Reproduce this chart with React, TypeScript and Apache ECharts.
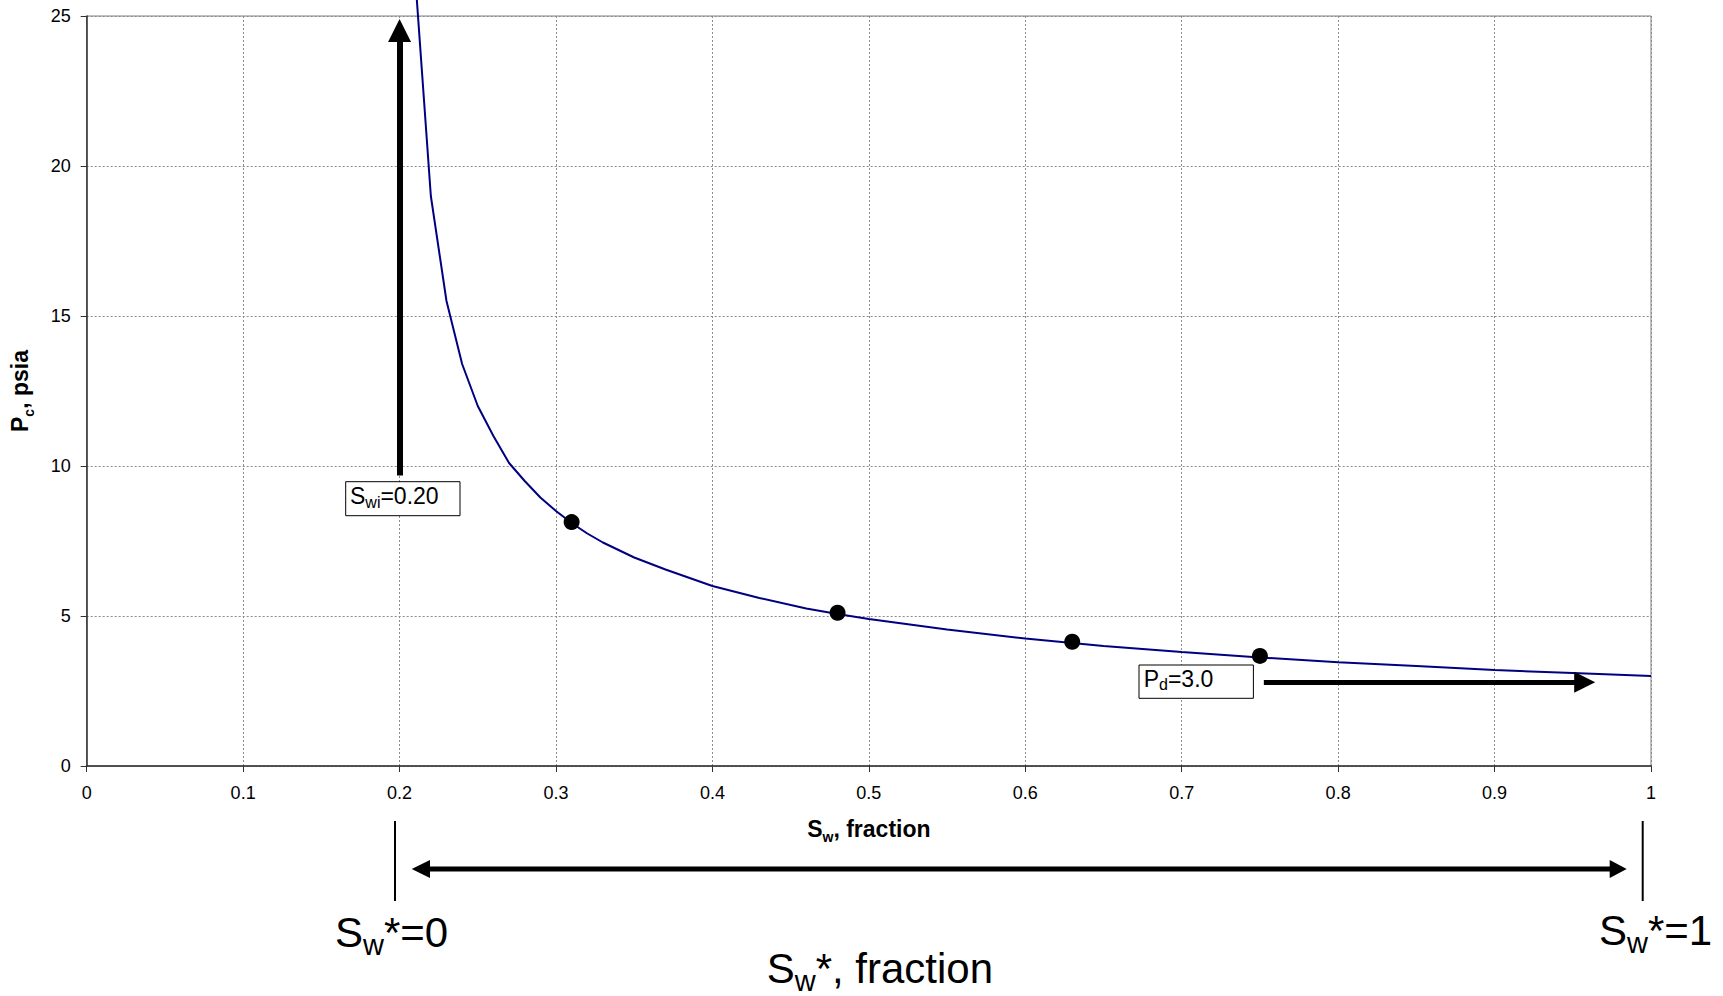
import React, { useEffect, useRef } from "react";
import * as echarts from "echarts";

// Capillary pressure curve
const curveSw = [0.21, 0.22, 0.23, 0.24, 0.25, 0.26, 0.27, 0.28, 0.29, 0.3, 0.31, 0.32, 0.33, 0.34, 0.35, 0.37, 0.4, 0.43, 0.46, 0.48, 0.5, 0.55, 0.6, 0.63, 0.65, 0.7, 0.75, 0.8, 0.85, 0.9, 0.95, 1.0];
const curvePc = [26.3, 19.0, 15.5, 13.4, 12.0, 11.0, 10.1, 9.5, 8.95, 8.5, 8.1, 7.75, 7.45, 7.2, 6.95, 6.55, 6.0, 5.6, 5.25, 5.07, 4.9, 4.55, 4.25, 4.1, 4.0, 3.8, 3.62, 3.46, 3.33, 3.2, 3.1, 3.0];

// Measured points
const pointSw = [0.31, 0.48, 0.63, 0.75];
const pointPc = [8.13, 5.11, 4.14, 3.67];

// Annotation values
const swi = 0.2;
const swiArrowFrom = 9.68;
const swiArrowTo = 24.52;
const pdArrowY = 2.79;
const pdArrowFrom = 0.7525;
const pdArrowTo = 0.9576;

const FONT = "'Liberation Sans', Arial, sans-serif";

export default function App() {
  const ref = useRef<HTMLDivElement>(null);

  useEffect(() => {
    if (!ref.current) return;
    const chart = echarts.init(ref.current, undefined, { renderer: "svg" });

    const curveData = curveSw.map((x, i) => [x, curvePc[i]]);
    const pointData = pointSw.map((x, i) => [x, pointPc[i]]);

    const bigRich = {
      a: { fontFamily: FONT, fontSize: 42, color: "#000" },
      s: { fontFamily: FONT, fontSize: 29, color: "#000", padding: [25, 0, 0, 0] },
    };

    const nameRich = {
      a: { fontFamily: FONT, fontSize: 23, fontWeight: "bold", color: "#000" },
      s: { fontFamily: FONT, fontSize: 14, fontWeight: "bold", color: "#000", padding: [17, 0, 0, 0] },
    };

    const option: any = {
      animation: false,
      backgroundColor: "#fff",
      textStyle: { fontFamily: FONT },
      grid: {
        left: 86.7,
        right: 72,
        top: 16,
        bottom: 230,
        containLabel: false,
        show: true,
        borderColor: "#808080",
        borderWidth: 1,
        backgroundColor: "transparent",
      },
      xAxis: {
        type: "value",
        min: 0,
        max: 1,
        interval: 0.1,
        axisLine: { show: true, onZero: false, lineStyle: { color: "#303030", width: 1.5 } },
        axisTick: { show: true, inside: false, length: 6, lineStyle: { color: "#303030" } },
        axisLabel: { color: "#000", fontSize: 18, margin: 18, fontFamily: FONT },
        splitLine: { show: true, lineStyle: { color: "#8c8c8c", type: [2, 2], width: 1 } },
        name: "{a|S}{s|w}{a|, fraction}",
        nameLocation: "middle",
        nameGap: 47,
        nameTextStyle: { rich: nameRich },
      },
      yAxis: {
        type: "value",
        min: 0,
        max: 25,
        interval: 5,
        axisLine: { show: true, onZero: false, lineStyle: { color: "#303030", width: 1.5 } },
        axisTick: { show: true, inside: false, length: 6, lineStyle: { color: "#303030" } },
        axisLabel: { color: "#000", fontSize: 18, margin: 16, fontFamily: FONT },
        splitLine: { show: true, lineStyle: { color: "#8c8c8c", type: [2, 2], width: 1 } },
        name: "{a|P}{s|c}{a|, psia}",
        nameLocation: "middle",
        nameGap: 51,
        nameRotate: 90,
        nameTextStyle: { rich: nameRich },
      },
      series: [
        {
          type: "line",
          data: curveData,
          showSymbol: false,
          symbol: "none",
          smooth: false,
          clip: false,
          lineStyle: { color: "#000080", width: 2 },
          silent: true,
          z: 3,
          markLine: {
            silent: true,
            animation: false,
            label: { show: false },
            lineStyle: { color: "#000", width: 6, type: "solid" },
            data: [
              [
                { coord: [swi, swiArrowFrom], symbol: "none" },
                { coord: [swi, swiArrowTo], symbol: "triangle", symbolSize: 23 },
              ],
              [
                { coord: [pdArrowFrom, pdArrowY], symbol: "none", lineStyle: { color: "#000", width: 5 } },
                { coord: [pdArrowTo, pdArrowY], symbol: "triangle", symbolSize: 21 },
              ],
            ],
          },
        },
        {
          type: "scatter",
          data: pointData,
          symbol: "circle",
          symbolSize: 16,
          itemStyle: { color: "#000", opacity: 1 },
          silent: true,
          z: 4,
        },
      ],
      graphic: [
        // S_wi box
        {
          type: "rect",
          z: 100,
          shape: { x: 345.7, y: 481.7, width: 114.3, height: 34 },
          style: { fill: "#fff", stroke: "#000", lineWidth: 1 },
        },
        {
          type: "text",
          z: 101,
          x: 350,
          y: 496,
          style: {
            text: "{a|S}{s|wi}{a|=0.20}",
            verticalAlign: "middle",
            align: "left",
            rich: {
              a: { fontFamily: FONT, fontSize: 23, color: "#000" },
              s: { fontFamily: FONT, fontSize: 16, color: "#000", padding: [12, 0, 0, 0] },
            },
          },
        },
        // P_d box
        {
          type: "rect",
          z: 100,
          shape: { x: 1139, y: 665, width: 114.4, height: 33.3 },
          style: { fill: "#fff", stroke: "#000", lineWidth: 1 },
        },
        {
          type: "text",
          z: 101,
          x: 1143.7,
          y: 678.5,
          style: {
            text: "{a|P}{s|d}{a|=3.0}",
            verticalAlign: "middle",
            align: "left",
            rich: {
              a: { fontFamily: FONT, fontSize: 23, color: "#000" },
              s: { fontFamily: FONT, fontSize: 16, color: "#000", padding: [12, 0, 0, 0] },
            },
          },
        },
        // Lower normalized-saturation axis
        {
          type: "line",
          shape: { x1: 395, y1: 821, x2: 395, y2: 901 },
          style: { stroke: "#000", lineWidth: 2 },
        },
        {
          type: "line",
          shape: { x1: 1642.7, y1: 821, x2: 1642.7, y2: 901 },
          style: { stroke: "#000", lineWidth: 2 },
        },
        {
          type: "line",
          shape: { x1: 425, y1: 869, x2: 1614, y2: 869 },
          style: { stroke: "#000", lineWidth: 5 },
        },
        {
          type: "polygon",
          shape: { points: [[411.7, 869], [430, 860], [430, 878]] },
          style: { fill: "#000" },
        },
        {
          type: "polygon",
          shape: { points: [[1626.7, 869], [1609.7, 860], [1609.7, 878]] },
          style: { fill: "#000" },
        },
        {
          type: "text",
          x: 335,
          y: 932,
          style: { text: "{a|S}{s|w}{a|*=0}", verticalAlign: "middle", align: "left", rich: bigRich },
        },
        {
          type: "text",
          x: 1599,
          y: 930,
          style: { text: "{a|S}{s|w}{a|*=1}", verticalAlign: "middle", align: "left", rich: bigRich },
        },
        {
          type: "text",
          x: 766.7,
          y: 968.5,
          style: { text: "{a|S}{s|w}{a|*, fraction}", verticalAlign: "middle", align: "left", rich: bigRich },
        },
      ],
    };

    chart.setOption(option);
    return () => chart.dispose();
  }, []);

  return (
    <div
      ref={ref}
      style={{ position: "absolute", left: 0, top: 0, width: 1723, height: 996, background: "#fff" }}
    />
  );
}
